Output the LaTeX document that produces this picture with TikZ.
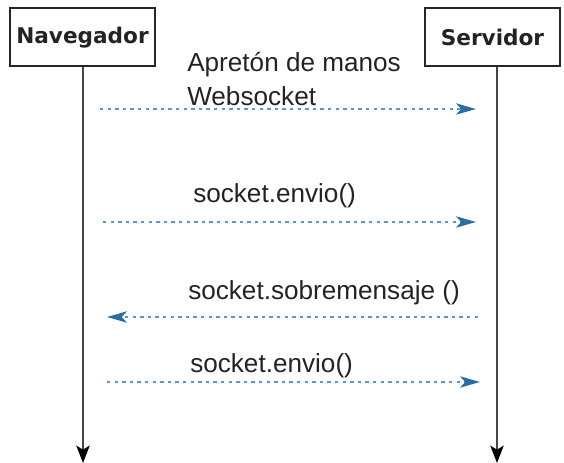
\documentclass[tikz,border=0pt]{standalone}
\usepackage{fontspec}
\setmainfont{Liberation Sans}
\newfontfamily\boxfont{DejaVu Sans}
\usetikzlibrary{arrows.meta}
\definecolor{msgblue}{RGB}{92,150,205}
\definecolor{headblue}{RGB}{40,110,165}
\definecolor{lifegray}{RGB}{70,70,70}
\definecolor{txtgray}{RGB}{35,35,35}
\tikzset{
  actor/.style={draw=black!85, line width=1.5pt, minimum height=43.5pt,
    inner sep=0pt, font=\boxfont\bfseries\fontsize{16.2}{19}\selectfont, text=txtgray},
  lifeline/.style={draw=lifegray, line width=1.6pt,
    -{Stealth[length=13pt, width=10pt, inset=3pt, fill=black, color=black]}},
  msg/.style={draw=msgblue, line width=1.7pt, dash pattern=on 2.5pt off 3.2pt,
    -{Stealth[length=15pt, width=8.5pt, inset=4pt, fill=headblue, color=headblue]}},
  msglabel/.style={anchor=base west, inner sep=0pt, text=txtgray,
    font=\fontsize{19.6}{24}\selectfont},
}
\begin{document}
\begin{tikzpicture}[x=0.75pt, y=-0.75pt]
  \useasboundingbox (0,0) rectangle (564,463);
  % participants
  \node[actor, minimum width=108.75pt] (nav) at (82.5,37.5) {Navegador};
  \node[actor, minimum width=101.25pt] (srv) at (492.5,37.5) {Servidor};
  % lifelines
  \coordinate (navtop) at (83,67);
  \coordinate (navend) at (83,463);
  \coordinate (srvtop) at (497,67);
  \coordinate (srvend) at (497,463);
  \draw[lifeline] (navtop) -- (navend);
  \draw[lifeline] (srvtop) -- (srvend);
  % message end points
  \coordinate (a1) at (100,109); \coordinate (b1) at (476,109);
  \coordinate (a2) at (103,222); \coordinate (b2) at (476,222);
  \coordinate (a3) at (478,317); \coordinate (b3) at (107,317);
  \coordinate (a4) at (107,382); \coordinate (b4) at (480,382);
  \draw[msg] (a1) -- (b1);
  \draw[msg] (a2) -- (b2);
  \draw[msg] (a3) -- (b3);
  \draw[msg] (a4) -- (b4);
  % message labels
  \node[msglabel] (l1a) at (187,72) {Apretón de manos};
  \node[msglabel] (l1b) at (187,106) {Websocket};
  \node[msglabel] (l2) at (193,203) {socket.envio()};
  \node[msglabel] (l3) at (188,300) {socket.sobremensaje ()};
  \node[msglabel] (l4) at (190,372) {socket.envio()};
\end{tikzpicture}
\end{document}
